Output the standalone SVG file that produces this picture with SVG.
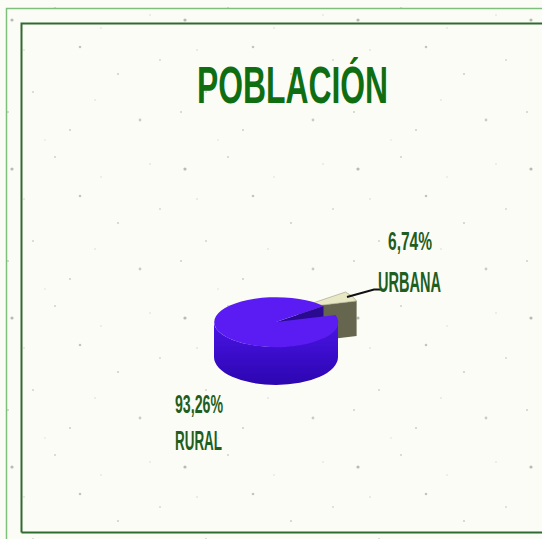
<svg xmlns="http://www.w3.org/2000/svg" width="542" height="539" viewBox="0 0 542 539">
<defs>
<pattern id="speck" width="173" height="149" patternUnits="userSpaceOnUse">
<rect width="173" height="149" fill="#fcfcf7"/>
<circle cx="12" cy="20" r="1.6" fill="#8e8e88" opacity="0.6"/>
<circle cx="55" cy="8" r="1" fill="#a8a8a0" opacity="0.5"/>
<circle cx="80" cy="47" r="1.3" fill="#8c8c86" opacity="0.5"/>
<circle cx="33" cy="92" r="0.9" fill="#b0b0a8" opacity="0.6"/>
<circle cx="118" cy="74" r="1.1" fill="#9c9c94" opacity="0.45"/>
<circle cx="24" cy="50" r="0.8" fill="#b8b8b0" opacity="0.6"/>
<circle cx="150" cy="15" r="0.8" fill="#b4b4ac" opacity="0.5"/>
<circle cx="140" cy="120" r="1.4" fill="#9a9a92" opacity="0.5"/>
<circle cx="70" cy="130" r="1" fill="#a0a098" opacity="0.5"/>
<circle cx="101" cy="28" r="0.7" fill="#b8b8b0" opacity="0.6"/>
<circle cx="160" cy="60" r="0.9" fill="#acaca4" opacity="0.5"/>
<circle cx="45" cy="140" r="0.7" fill="#b4b4ac" opacity="0.5"/>
<circle cx="95" cy="100" r="0.8" fill="#b0b0a8" opacity="0.5"/>
<circle cx="8" cy="112" r="1" fill="#a4a49c" opacity="0.5"/>
</pattern>
<linearGradient id="side" x1="0" y1="0" x2="0" y2="1">
<stop offset="0" stop-color="#4a14e6"/>
<stop offset="1" stop-color="#2c06b0"/>
</linearGradient>
<style>
.lbl{font-family:"Liberation Sans",Arial,sans-serif;font-weight:bold;fill:#1e5e1e;}
.title{font-family:"Liberation Sans",Arial,sans-serif;font-weight:bold;fill:#0f6e12;}
</style>
</defs>
<rect width="542" height="539" fill="url(#speck)"/>
<g id="frame" fill="none">
<path d="M6.5 539 V8.5 H542" stroke="#7cc07c" stroke-width="1.5"/>
<path d="M21.5 532.5 V23.5 H542 M21.5 532.5 H542" stroke="#2e6b2e" stroke-width="2"/>
</g>
<g id="title">
<text class="title" x="197" y="103" font-size="52" textLength="191" lengthAdjust="spacingAndGlyphs">POBLACIÓN</text>
</g>
<g id="slice-urbana">
<path d="M298 308 L356.6 301 L356.6 336 L298 343 Z" fill="#66664e"/>
<path d="M298 308 L345.5 292 A62 25 0 0 1 356.6 301 Z" fill="#e8e8c4" stroke="#9a9a80" stroke-width="0.6"/>
</g>
<g id="slice-rural">
<path d="M276 322 L323.5 306 L323.5 341 L276 357 Z" fill="#2a0a90"/>
<path d="M214 322 A62 25 0 0 0 338 322 L338 357 A62 28 0 0 1 214 357 Z" fill="url(#side)"/>
<path d="M276 322 L335.6 315 A62 25 0 1 1 323.5 306 Z" fill="#5a1cf2"/>
</g>
<g id="connectors">
<path d="M347 297 L374 289.5 H381" fill="none" stroke="#111" stroke-width="2.2"/>
</g>
<g id="label-urbana">
<text class="lbl" x="388" y="250" font-size="25" textLength="44" lengthAdjust="spacingAndGlyphs">6,74%</text>
<text class="lbl" x="378" y="292" font-size="30" textLength="63" lengthAdjust="spacingAndGlyphs">URBANA</text>
</g>
<g id="label-rural">
<text class="lbl" x="175" y="413" font-size="25" textLength="48" lengthAdjust="spacingAndGlyphs">93,26%</text>
<text class="lbl" x="175" y="450" font-size="27" textLength="47" lengthAdjust="spacingAndGlyphs">RURAL</text>
</g>
</svg>
